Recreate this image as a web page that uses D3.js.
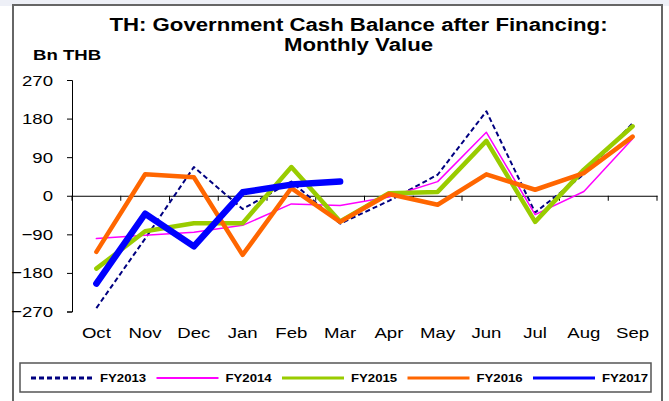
<!DOCTYPE html>
<html>
<head>
<meta charset="utf-8">
<script src="https://cdn.jsdelivr.net/npm/d3@7"></script>
<style>
  body { margin: 0; background: #fff; }
  svg { display: block; font-family: "Liberation Sans", Arial, sans-serif; }
</style>
</head>
<body>
<svg id="chart" width="669" height="401"></svg>
<script>
var months = ["Oct", "Nov", "Dec", "Jan", "Feb", "Mar", "Apr", "May", "Jun", "Jul", "Aug", "Sep"];
var yTicks = [-270, -180, -90, 0, 90, 180, 270];

var fy2013 = [-262, -100, 67, -31, 33, -65, -12, 49, 197, -39, 50, 169];
var fy2014 = [-100, -92, -85, -69, -19, -23, -3, 33, 148, -44, 10, 133];
var fy2015 = [-170, -83, -64, -64, 67, -60, 6, 9, 128, -61, 61, 162];
var fy2016 = [-131, 50, 43, -138, 18, -61, 4, -21, 50, 14, 53, 138];
var fy2017 = [-205, -42, -118, 8, 26, 33];

var series = [
  {name: "FY2013", values: fy2013, color: "#000080", width: 2, dash: "5,3"},
  {name: "FY2014", values: fy2014, color: "#ff00ff", width: 1.5, dash: null},
  {name: "FY2015", values: fy2015, color: "#99cc00", width: 4.5, dash: null},
  {name: "FY2016", values: fy2016, color: "#ff6600", width: 4.5, dash: null},
  {name: "FY2017", values: fy2017, color: "#0000ff", width: 6.5, dash: null}
];

// the picture's text is a bit wider than Arial, stretch it sideways
var sx = 1.2;

var svg = d3.select("#chart");

function label(px, py, str, size, anchor, bold) {
  return svg.append("text")
    .attr("transform", "translate(" + px + "," + py + ") scale(" + sx + ",1)")
    .attr("text-anchor", anchor || "start")
    .style("font-size", size + "px")
    .style("font-weight", bold ? "bold" : "normal")
    .text(str);
}

// faint backdrop above the frame
svg.append("rect").attr("x", 0).attr("y", 0).attr("width", 669).attr("height", 6)
  .attr("fill", "#eef0f7");

// outer frame
svg.append("rect")
  .attr("x", 13).attr("y", 5).attr("width", 649).attr("height", 402)
  .attr("fill", "#fff").attr("stroke", "#666").attr("stroke-width", 2);

// titles
label(358.5, 31, "TH: Government Cash Balance after Financing:", 18.5, "middle", true);
label(358.5, 51, "Monthly Value", 18.5, "middle", true);
label(33, 59.5, "Bn THB", 15.5, "start", true);

var x = d3.scaleBand().domain(months).range([72, 657]);
var y = d3.scaleLinear().domain([-270, 270]).range([311.5, 80]);

// y axis, labels drawn separately so they can be stretched
var yAxis = svg.append("g")
  .attr("transform", "translate(72,0)")
  .call(d3.axisLeft(y).tickValues(yTicks).tickSize(5).tickFormat(""));
yAxis.select(".domain").attr("stroke", "#000").attr("stroke-width", 1);
yAxis.selectAll(".tick line").attr("stroke", "#000");

yTicks.forEach(function(t) {
  label(53, y(t) + 5.5, d3.format("d")(t), 15.5, "end", false);
});

// zero line with tick marks at category boundaries
var xAxis = svg.append("g")
  .attr("transform", "translate(0," + y(0) + ")")
  .call(d3.axisBottom(x).tickSize(0).tickFormat(""));
xAxis.select(".domain").attr("stroke", "#000").attr("stroke-width", 1);
xAxis.selectAll(".tick").remove();
var bounds = months.map(function(m) { return x(m); }).concat([x.range()[1]]);
xAxis.selectAll("line.bt").data(bounds).enter().append("line")
  .attr("class", "bt")
  .attr("x1", function(d) { return d; }).attr("x2", function(d) { return d; })
  .attr("y1", 0).attr("y2", 5).attr("stroke", "#000");

// month labels along the bottom
months.forEach(function(m) {
  label(x(m) + x.bandwidth() / 2, 338, m, 15.5, "middle", false);
});

// lines
var line = d3.line()
  .x(function(d, i) { return x(months[i]) + x.bandwidth() / 2; })
  .y(function(d) { return y(d); });

svg.selectAll("path.series").data(series).enter().append("path")
  .attr("class", "series")
  .attr("d", function(d) { return line(d.values); })
  .attr("fill", "none")
  .attr("stroke", function(d) { return d.color; })
  .attr("stroke-width", function(d) { return d.width; })
  .attr("stroke-dasharray", function(d) { return d.dash; })
  .attr("stroke-linejoin", "round")
  .attr("stroke-linecap", function(d) { return d.dash ? "butt" : "round"; });

// legend
svg.append("rect")
  .attr("x", 20).attr("y", 363).attr("width", 631).attr("height", 29)
  .attr("fill", "#fff").attr("stroke", "#555").attr("stroke-width", 1.5);

series.forEach(function(s, i) {
  var lx = 31 + i * 125.5;
  svg.append("line")
    .attr("x1", lx).attr("x2", lx + 62).attr("y1", 378).attr("y2", 378)
    .attr("stroke", s.color)
    .attr("stroke-width", s.name == "FY2014" ? 2 : 3)
    .attr("stroke-dasharray", s.dash);
  label(lx + 69, 382, s.name, 11, "start", true);
});
</script>
</body>
</html>
